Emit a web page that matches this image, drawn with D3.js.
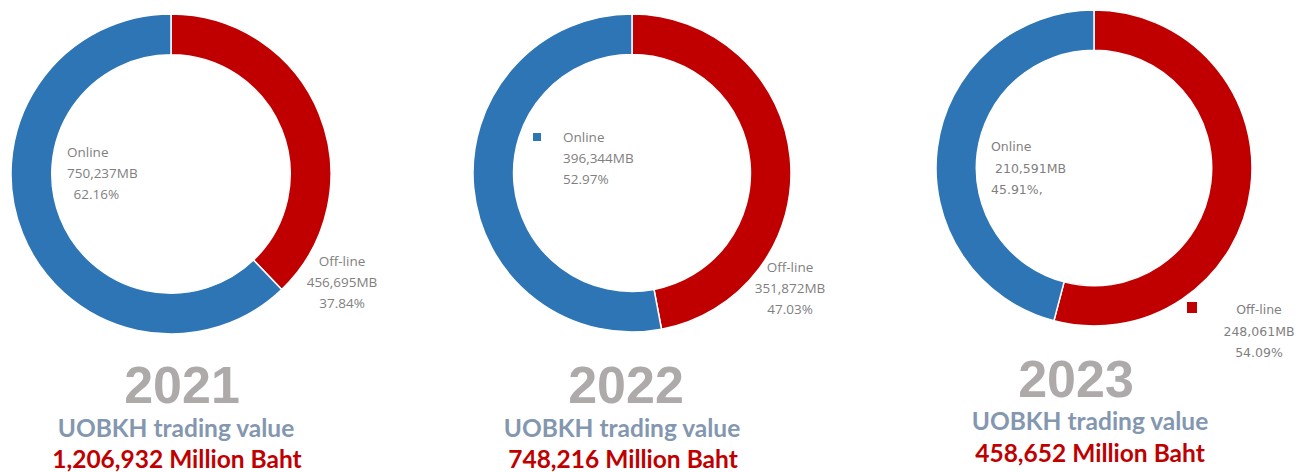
<!DOCTYPE html>
<html><head><meta charset="utf-8">
<script src="https://cdn.jsdelivr.net/npm/d3@7"></script>
<style>html,body{margin:0;padding:0;background:#fff;}svg{display:block;}</style>
</head><body>
<svg id="chart" width="1315" height="472"></svg>
<script>
// ---- data ----
const years = ["2021", "2022", "2023"];
const categories = ["Off-line", "Online"];
const onlineMB = [750237, 396344, 210591];
const offlineMB = [456695, 351872, 248061];
const onlinePct = ["62.16%", "52.97%", "45.91%,"];
const offlinePct = ["37.84%", "47.03%", "54.09%"];
const totalLabels = ["1,206,932 Million Baht", "748,216 Million Baht", "458,652 Million Baht"];
const subtitle = "UOBKH trading value";

// ---- layout (positions/styles) ----
const colors = {"Online": "#2e75b6", "Off-line": "#c00000"};
const layout = [
  {cx: 171, cy: 174, r: 160,
   on: {x: 67, y: 152, anchor: "start", dx: [0, 0, 3], marker: false},
   off: {x: 342, y: 261, anchor: "middle", marker: false},
   font: "'Open Sans', sans-serif", fs: 13.5, lh: 21,
   year: {x: 182, y: 403}, sub: {x: 176, y: 437}, tot: {x: 177, y: 468}},
  {cx: 632, cy: 173, r: 159,
   on: {x: 563, y: 137, anchor: "start", dx: [0, 0, 0], marker: true},
   off: {x: 790, y: 267, anchor: "middle", marker: false},
   font: "'Open Sans', sans-serif", fs: 13.5, lh: 21,
   year: {x: 626, y: 403}, sub: {x: 622, y: 437}, tot: {x: 623, y: 468}},
  {cx: 1094, cy: 168, r: 158,
   on: {x: 991, y: 147, anchor: "start", dx: [0, 4, 0], marker: false},
   off: {x: 1259, y: 310, anchor: "middle", marker: true},
   font: "'DejaVu Sans', sans-serif", fs: 12.5, lh: 21.5,
   year: {x: 1076, y: 397}, sub: {x: 1090, y: 430}, tot: {x: 1090, y: 462}}
];

const svg = d3.select("#chart");
const fmt = d3.format(",");
const pie = d3.pie().sort(null).value(d => d.value);

years.forEach((yr, i) => {
  const L = layout[i];
  const data = [
    {name: categories[0], value: offlineMB[i]},
    {name: categories[1], value: onlineMB[i]}
  ];
  const arc = d3.arc().innerRadius(L.r * 0.745).outerRadius(L.r);
  const g = svg.append("g").attr("transform", `translate(${L.cx},${L.cy})`);
  g.selectAll("path").data(pie(data)).join("path")
    .attr("d", arc)
    .attr("fill", d => colors[d.data.name])
    .attr("stroke", "#fff").attr("stroke-width", 1.5);

  // labels
  const lab = svg.append("g").attr("font-family", L.font).attr("font-size", L.fs).attr("fill", "#7f7f7f");
  const onLines = ["Online", fmt(onlineMB[i]) + "MB", (i === 0 ? " " : "") + onlinePct[i]];
  const offLines = ["Off-line", fmt(offlineMB[i]) + "MB", offlinePct[i]];
  onLines.forEach((t, k) => {
    lab.append("text").attr("x", L.on.x + L.on.dx[k]).attr("y", L.on.y + k * L.lh)
      .attr("dy", "0.35em").attr("text-anchor", L.on.anchor)
      .attr("xml:space", "preserve").text(t);
  });
  offLines.forEach((t, k) => {
    lab.append("text").attr("x", L.off.x).attr("y", L.off.y + k * L.lh)
      .attr("dy", "0.35em").attr("text-anchor", L.off.anchor).text(t);
  });
  if (L.on.marker) {
    svg.append("rect").attr("x", L.on.x - 30).attr("y", L.on.y - 4).attr("width", 8).attr("height", 8)
      .attr("fill", colors["Online"]);
  }
  if (L.off.marker) {
    svg.append("rect").attr("x", L.off.x - 72).attr("y", L.off.y - 8).attr("width", 10).attr("height", 11)
      .attr("fill", colors["Off-line"]);
  }

  // titles
  svg.append("text").attr("x", L.year.x).attr("y", L.year.y).attr("text-anchor", "middle")
    .attr("font-family", "'Liberation Sans', Arial, sans-serif").attr("font-weight", "bold")
    .attr("font-size", 52).attr("fill", "#aeaaaa").text(yr);
  svg.append("text").attr("x", L.sub.x).attr("y", L.sub.y).attr("text-anchor", "middle")
    .attr("font-family", "Lato, sans-serif").attr("font-weight", "bold")
    .attr("font-size", 24.5).attr("fill", "#8497b0").text(subtitle);
  svg.append("text").attr("x", L.tot.x).attr("y", L.tot.y).attr("text-anchor", "middle")
    .attr("font-family", "Lato, sans-serif").attr("font-weight", "bold")
    .attr("font-size", 24.5).attr("fill", "#c00000").text(totalLabels[i]);
});
</script>
</body></html>
